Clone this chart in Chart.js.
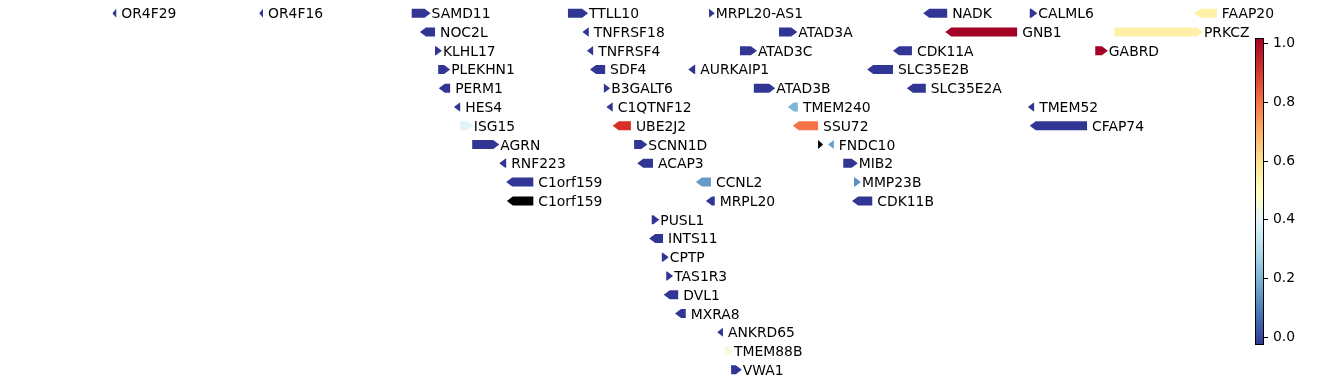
<!DOCTYPE html>
<html>
<head>
<meta charset="utf-8">
<script src="https://cdn.jsdelivr.net/npm/chart.js@4.4.1/dist/chart.umd.min.js"></script>
<style>
    html, body { margin: 0; padding: 0; background: #fff; }
    #wrap { position: relative; width: 1338px; height: 383px; }
    #tracks { position: absolute; left: 0; top: 0; }
    #cbar { position: absolute; left: 1245px; top: 0; }
</style>
</head>
<body>
<div id="wrap">
    <canvas id="tracks" width="1338" height="383"></canvas>
    <canvas id="cbar" width="93" height="383"></canvas>
</div>
<script>
// gene positions in kb, row index (0 = top), strand and score (null = no score, drawn black)
const geneNames = [
    'OR4F29', 'OR4F16', 'SAMD11', 'TTLL10', 'MRPL20-AS1', 'NADK', 'CALML6', 'FAAP20',
    'NOC2L', 'TNFRSF18', 'ATAD3A', 'GNB1', 'PRKCZ',
    'KLHL17', 'TNFRSF4', 'ATAD3C', 'CDK11A', 'GABRD',
    'PLEKHN1', 'SDF4', 'AURKAIP1', 'SLC35E2B',
    'PERM1', 'B3GALT6', 'ATAD3B', 'SLC35E2A',
    'HES4', 'C1QTNF12', 'TMEM240', 'TMEM52',
    'ISG15', 'UBE2J2', 'SSU72', 'CFAP74',
    'AGRN', 'SCNN1D', '', 'FNDC10',
    'RNF223', 'ACAP3', 'MIB2',
    'C1orf159', 'CCNL2', 'MMP23B',
    'C1orf159', 'MRPL20', 'CDK11B',
    'PUSL1', 'INTS11', 'CPTP', 'TAS1R3', 'DVL1', 'MXRA8', 'ANKRD65', 'TMEM88B', 'VWA1'
];
const geneStarts = [
    447, 680, 922, 1170, 1394, 1734, 1903, 2164,
    935, 1193, 1505, 1769, 2038,
    959, 1200, 1443, 1686, 2007,
    964, 1205, 1361, 1645,
    965, 1227, 1465, 1708,
    989, 1231, 1519, 1900,
    999, 1241, 1527, 1903,
    1018, 1275, 1567, 1583,
    1061, 1280, 1607,
    1072, 1373, 1624,
    1073, 1389, 1621,
    1303, 1299, 1319, 1326, 1322, 1340, 1407, 1419, 1429
];
const geneEnds = [
    453, 686, 952, 1202, 1403, 1772, 1915, 2200,
    959, 1203, 1534, 1883, 2178,
    970, 1210, 1470, 1716, 2027,
    983, 1229, 1372, 1686,
    983, 1237, 1499, 1738,
    999, 1241, 1535, 1910,
    1019, 1270, 1567, 1994,
    1061, 1296, 1575, 1592,
    1072, 1305, 1630,
    1115, 1397, 1635,
    1115, 1403, 1653,
    1315, 1321, 1330, 1337, 1345, 1357, 1416, 1432, 1446
];
const geneStrands = [
    '-', '-', '+', '+', '+', '-', '+', '-',
    '-', '-', '+', '-', '+',
    '+', '-', '+', '-', '+',
    '+', '-', '-', '-',
    '-', '+', '+', '-',
    '-', '-', '-', '-',
    '+', '-', '-', '-',
    '+', '+', '+', '-',
    '-', '-', '+',
    '-', '-', '+',
    '-', '-', '-',
    '+', '-', '+', '+', '-', '-', '-', '+', '+'
];
const geneRows = [
    0, 0, 0, 0, 0, 0, 0, 0,
    1, 1, 1, 1, 1,
    2, 2, 2, 2, 2,
    3, 3, 3, 3,
    4, 4, 4, 4,
    5, 5, 5, 5,
    6, 6, 6, 6,
    7, 7, 7, 7,
    8, 8, 8,
    9, 9, 9,
    10, 10, 10,
    11, 12, 13, 14, 15, 16, 17, 18, 19
];
const geneScores = [
    0, 0, 0, 0, 0, 0, 0, 0.55,
    0, 0, 0, 1.0, 0.55,
    0, 0, 0, 0, 1.0,
    0, 0, 0, 0,
    0, 0, 0, 0,
    0, 0, 0.22, 0,
    0.40, 0.90, 0.79, 0,
    0, 0, null, 0.17,
    0, 0, 0,
    0, 0.17, 0.15,
    null, 0, 0,
    0, 0, 0, 0, 0, 0, 0, 0.46, 0
];

const cbarTicks = [0.0, 0.2, 0.4, 0.6, 0.8, 1.0];
const CB_MIN = -0.027;
const CB_MAX = 1.02;

// RdYlBu reversed
const cmapStops = ['#313695', '#4575b4', '#74add1', '#abd9e9', '#e0f3f8', '#ffffbf',
                   '#fee090', '#fdae61', '#f46d43', '#d73027', '#a50026'];

const FONT = { family: "'DejaVu Sans', sans-serif", size: 13.9 };

function hexToRgb(h) {
    return [parseInt(h.slice(1, 3), 16), parseInt(h.slice(3, 5), 16), parseInt(h.slice(5, 7), 16)];
}

function cmap(v) {
    if (v === null || v === undefined) return '#000000';
    let t = Math.max(0, Math.min(1, v)) * (cmapStops.length - 1);
    const i = Math.min(Math.floor(t), cmapStops.length - 2);
    const f = t - i;
    const a = hexToRgb(cmapStops[i]), b = hexToRgb(cmapStops[i + 1]);
    const c = a.map((x, k) => Math.round(x + (b[k] - x) * f));
    return `rgb(${c[0]},${c[1]},${c[2]})`;
}

const genePoints = geneNames.map((n, i) => ({ x: (geneStarts[i] + geneEnds[i]) / 2, y: geneRows[i] }));

// draws each gene as an arrow and its label, using the chart scales
const geneArrows = {
    id: 'geneArrows',
    afterDatasetsDraw(chart) {
        const ctx = chart.ctx;
        const xs = chart.scales.x, ys = chart.scales.y;
        const half = 4.5, headLen = 6;
        ctx.save();
        geneNames.forEach((name, i) => {
            const x0 = xs.getPixelForValue(geneStarts[i]);
            const x1 = xs.getPixelForValue(geneEnds[i]);
            const y = ys.getPixelForValue(geneRows[i]);
            const head = Math.min(headLen, x1 - x0);
            ctx.beginPath();
            if (geneStrands[i] === '+') {
                ctx.moveTo(x0, y - half);
                ctx.lineTo(x1 - head, y - half);
                ctx.lineTo(x1, y);
                ctx.lineTo(x1 - head, y + half);
                ctx.lineTo(x0, y + half);
            } else {
                ctx.moveTo(x1, y - half);
                ctx.lineTo(x0 + head, y - half);
                ctx.lineTo(x0, y);
                ctx.lineTo(x0 + head, y + half);
                ctx.lineTo(x1, y + half);
            }
            ctx.closePath();
            ctx.fillStyle = cmap(geneScores[i]);
            ctx.fill();

            if (name) {
                ctx.fillStyle = '#000';
                ctx.font = `${FONT.size}px ${FONT.family}`;
                ctx.textBaseline = 'alphabetic';
                ctx.textAlign = 'left';
                const lx = geneStrands[i] === '+' ? x1 + 1 : x1 + 5;
                ctx.fillText(name, lx, y + 5);
            }
        });
        ctx.restore();
    }
};

new Chart(document.getElementById('tracks'), {
    type: 'scatter',
    data: {
        datasets: [{ data: genePoints, pointRadius: 0, pointHoverRadius: 0 }]
    },
    options: {
        responsive: false,
        animation: false,
        layout: { padding: 0 },
        plugins: { legend: { display: false }, tooltip: { enabled: false } },
        scales: {
            x: { type: 'linear', display: false, min: 268.5, max: 2392.3 },
            y: { type: 'linear', display: false, min: -0.7, max: 19.7, reverse: true }
        }
    },
    plugins: [geneArrows]
});

// colour bar
const colorbarFill = {
    id: 'colorbarFill',
    beforeDatasetsDraw(chart) {
        const { ctx, chartArea } = chart;
        const ys = chart.scales.y;
        const grad = ctx.createLinearGradient(0, ys.getPixelForValue(CB_MIN), 0, ys.getPixelForValue(CB_MAX));
        cmapStops.forEach((c, i) => grad.addColorStop(i / (cmapStops.length - 1), c));
        ctx.save();
        ctx.fillStyle = grad;
        ctx.fillRect(chartArea.left, chartArea.top, chartArea.right - chartArea.left, chartArea.bottom - chartArea.top);
        ctx.strokeStyle = '#000';
        ctx.lineWidth = 1;
        ctx.strokeRect(chartArea.left + 0.5, chartArea.top + 0.5,
            chartArea.right - chartArea.left - 1, chartArea.bottom - chartArea.top - 1);
        ctx.restore();
    }
};

new Chart(document.getElementById('cbar'), {
    type: 'scatter',
    data: { datasets: [{ data: [] }] },
    options: {
        responsive: false,
        animation: false,
        layout: { padding: { top: 38, bottom: 38, left: 10, right: 0 } },
        plugins: { legend: { display: false }, tooltip: { enabled: false } },
        scales: {
            x: { display: false, min: 0, max: 1 },
            y: {
                position: 'right',
                min: CB_MIN,
                max: CB_MAX,
                afterBuildTicks: (axis) => { axis.ticks = cbarTicks.map(v => ({ value: v })); },
                afterFit: (axis) => { axis.width = 74; },
                border: { display: false },
                grid: { drawOnChartArea: false, drawTicks: true, tickLength: 4, color: '#000', tickWidth: 1 },
                ticks: {
                    color: '#000',
                    font: FONT,
                    padding: 5,
                    callback: (v) => Number(v).toFixed(1)
                }
            }
        }
    },
    plugins: [colorbarFill]
});
</script>
</body>
</html>
